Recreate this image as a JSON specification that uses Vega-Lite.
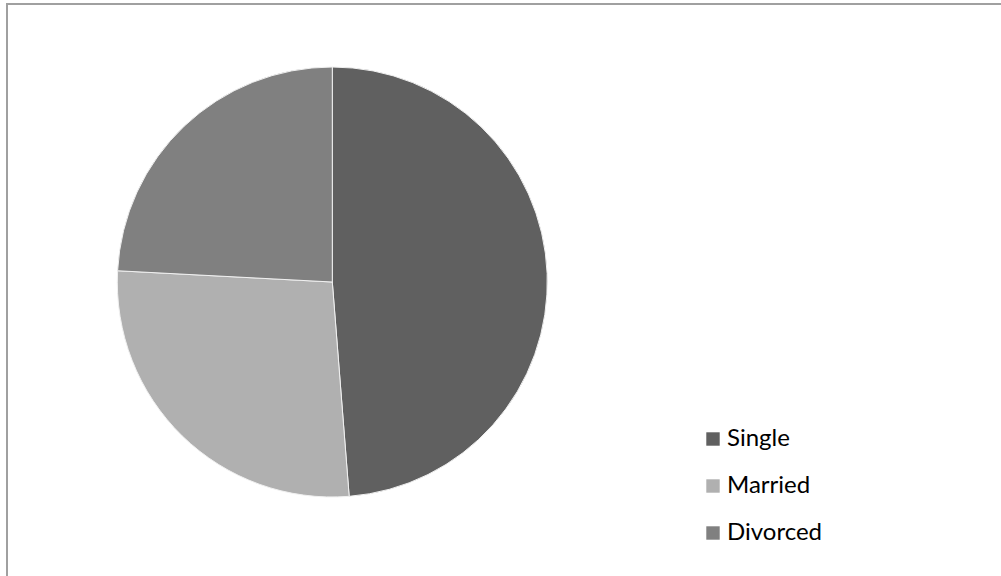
{
  "$schema": "https://vega.github.io/schema/vega-lite/v6.json",
  "width": 1000,
  "height": 580,
  "autosize": "none",
  "padding": {"left": 7, "top": 4, "right": 0, "bottom": 0},
  "background": "white",
  "config": {
    "view": {"stroke": "#a0a0a0", "strokeWidth": 2},
    "font": "Lato"
  },
  "data": {
    "values": [
      {"status": "Single", "count": 117},
      {"status": "Married", "count": 65},
      {"status": "Divorced", "count": 58}
    ]
  },
  "mark": {"type": "arc", "outerRadius": 215, "stroke": "#f0f0f0", "strokeWidth": 1},
  "encoding": {
    "theta": {"field": "count", "type": "quantitative", "stack": true},
    "order": {"field": "count", "type": "quantitative", "sort": "descending"},
    "x": {"datum": 1, "type": "quantitative", "scale": {"domain": [0, 3.074]}, "axis": null},
    "y": {"datum": 1, "type": "quantitative", "scale": {"domain": [0, 2.0863], "reverse": true}, "axis": null},
    "color": {
      "field": "status",
      "type": "nominal",
      "sort": ["Single", "Married", "Divorced"],
      "scale": {"domain": ["Single", "Married", "Divorced"], "range": ["#606060", "#b0b0b0", "#808080"]},
      "legend": {
        "title": null,
        "orient": "none",
        "legendX": 694,
        "legendY": 423,
        "padding": 0,
        "symbolType": "square",
        "symbolSize": 180,
        "symbolStrokeWidth": 0,
        "labelFontSize": 24,
        "labelFont": "Lato",
        "labelColor": "#000000",
        "labelOffset": 2,
        "rowPadding": 23
      }
    }
  }
}
